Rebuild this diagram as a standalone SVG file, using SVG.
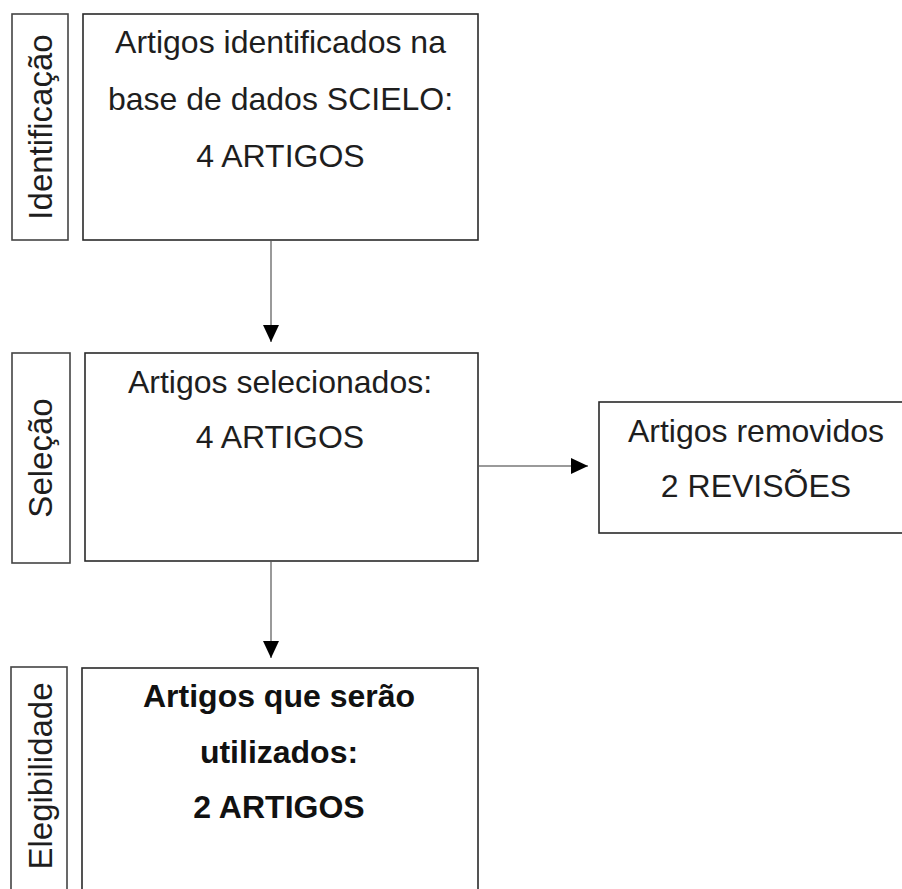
<svg xmlns="http://www.w3.org/2000/svg" width="902" height="889" viewBox="0 0 902 889">
<defs>
<style>
.box{fill:#fff;stroke:#2a2a2a;stroke-width:1.6}
.lab{fill:#fff;stroke:#444;stroke-width:1.6}
.t{font-family:"Liberation Sans",Arial,Helvetica,sans-serif;font-size:32px;fill:#1e1e1e;text-anchor:middle}
.v{font-size:33px}
.b{font-weight:bold;fill:#111}
.c{fill:none;stroke:#9a9a9a;stroke-width:2}
</style>
<marker id="ah" viewBox="0 0 17 16" refX="17" refY="8" markerWidth="17" markerHeight="16" markerUnits="userSpaceOnUse" orient="auto">
<path d="M0,0 L17,8 L0,16 Z" fill="#000"/>
</marker>
</defs>
<rect width="902" height="889" fill="#fff"/>
<g id="identificacao">
<rect class="lab" x="12" y="14" width="56" height="226"/>
<text class="t v" transform="translate(52,127) rotate(-90)">Identificação</text>
<rect class="box" x="83" y="14" width="395" height="226"/>
<text class="t" x="280.5" y="53">Artigos identificados na</text>
<text class="t" x="280.5" y="110">base de dados SCIELO:</text>
<text class="t" x="280.5" y="167">4 ARTIGOS</text>
</g>
<g id="selecao">
<rect class="lab" x="12" y="353" width="58" height="210"/>
<text class="t v" transform="translate(52,458) rotate(-90)">Seleção</text>
<rect class="box" x="85" y="353" width="393" height="208"/>
<text class="t" x="280" y="393">Artigos selecionados:</text>
<text class="t" x="280" y="448">4 ARTIGOS</text>
</g>
<g id="removidos">
<rect class="box" x="599" y="402" width="320" height="131"/>
<text class="t" x="756" y="442">Artigos removidos</text>
<text class="t" x="756" y="497">2 REVISÕES</text>
</g>
<g id="elegibilidade">
<rect class="lab" x="11" y="667" width="56" height="240"/>
<text class="t v" transform="translate(52,776) rotate(-90)">Elegibilidade</text>
<rect class="box" x="82" y="668" width="396" height="240"/>
<text class="t b" x="279" y="707">Artigos que serão</text>
<text class="t b" x="279" y="763">utilizados:</text>
<text class="t b" x="279" y="818">2 ARTIGOS</text>
</g>
<g id="connectors">
<line class="c" x1="271" y1="241" x2="271" y2="342" marker-end="url(#ah)"/>
<line class="c" x1="271" y1="562" x2="271" y2="658" marker-end="url(#ah)"/>
<line class="c" x1="479" y1="466" x2="588" y2="466" marker-end="url(#ah)"/>
</g>
</svg>
